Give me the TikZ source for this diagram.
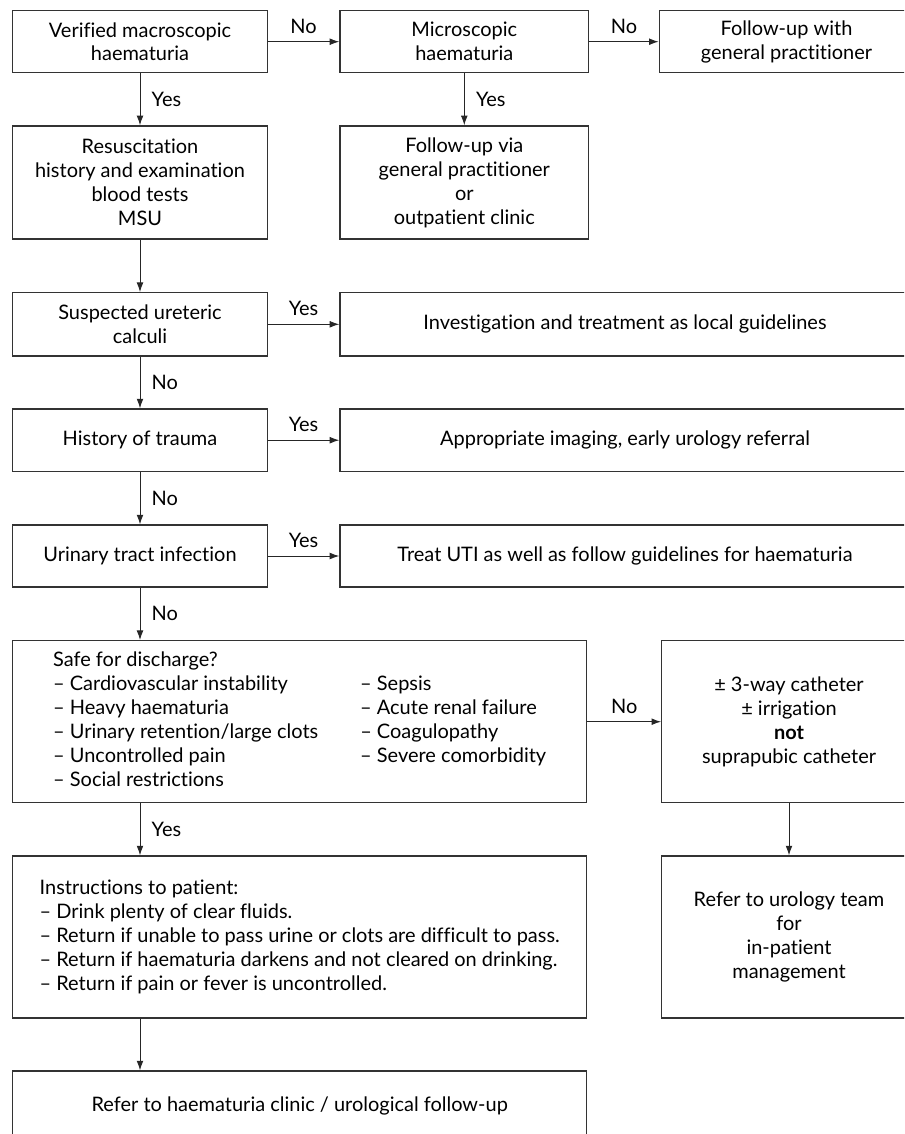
\documentclass[tikz,border=0pt]{standalone}
\usepackage{fontspec}
\setmainfont{Lato}[Ligatures=NoCommon]
\usetikzlibrary{arrows.meta}

\newcommand{\flowfont}{\fontsize{14.2}{17}\selectfont}

\tikzset{
  box/.style={draw=black!80, line width=0.9pt, inner sep=0pt, align=center, font=\flowfont},
  narrow/.style={box, minimum width=6.36cm},
  wide/.style={box, minimum width=14.35cm},
  lbl/.style={font=\flowfont, inner sep=0pt},
  link/.style={-{Latex[length=2.4mm,width=1.7mm]}, line width=0.7pt, draw=black!85},
}

\begin{document}
\begin{tikzpicture}[x=0.025cm, y=-0.025cm]
    \useasboundingbox (0,0) rectangle (904,1134);
    \clip (0,0) rectangle (904,1134);

    % Top row
    \node[narrow, minimum height=1.55cm] (verified) at (140, 41.7) {Verified macroscopic\\haematuria};
    \node[box, minimum width=6.22cm, minimum height=1.55cm] (micro) at (464.3, 41.7) {Microscopic\\haematuria};
    \node[narrow, minimum height=1.55cm] (gp) at (786.5, 41.7) {Follow-up with\\general practitioner};

    % Second row
    \node[narrow, minimum height=2.83cm] (resus) at (140, 182.5) {Resuscitation\\history and examination\\blood tests\\MSU};
    \node[box, minimum width=6.22cm, minimum height=2.83cm] (followup) at (464.3, 182.5) {Follow-up via\\general practitioner\\or\\outpatient clinic};

    % Questions down the left side
    \node[narrow, minimum height=1.58cm] (calculi) at (140, 324.3) {Suspected ureteric\\calculi};
    \node[box, minimum width=14.25cm, minimum height=1.58cm] (guide) at (625, 324.3) {Investigation and treatment as local guidelines};

    \node[narrow, minimum height=1.56cm] (trauma) at (140, 440.2) {History of trauma};
    \node[box, minimum width=14.25cm, minimum height=1.56cm] (imaging) at (625, 440.2) {Appropriate imaging, early urology referral};

    \node[narrow, minimum height=1.55cm] (uti) at (140, 556) {Urinary tract infection};
    \node[box, minimum width=14.25cm, minimum height=1.55cm] (treat) at (625, 556) {Treat UTI as well as follow guidelines for haematuria};

    % Discharge decision
    \node[wide, minimum height=4.05cm] (safe) at (299.7, 721.7) {%
        \begin{tabular}{@{}l@{\hspace{1.05cm}}l@{}}
        Safe for discharge? & \\
        -- Cardiovascular instability & -- Sepsis \\
        -- Heavy haematuria & -- Acute renal failure \\
        -- Urinary retention/large clots & -- Coagulopathy \\
        -- Uncontrolled pain & -- Severe comorbidity \\
        -- Social restrictions &
        \end{tabular}};
    \node[narrow, minimum height=4.05cm] (cath) at (789, 721.7) {± 3-way catheter\\± irrigation\\\textbf{not}\\suprapubic catheter};

    \node[wide, minimum height=4.05cm, align=left] (instr) at (299.7, 937) {Instructions to patient:\\
        -- Drink plenty of clear fluids.\\
        -- Return if unable to pass urine or clots are difficult to pass.\\
        -- Return if haematuria darkens and not cleared on drinking.\\
        -- Return if pain or fever is uncontrolled.};
    \node[narrow, minimum height=4.05cm] (urology) at (789, 937) {Refer to urology team\\for\\in-patient\\management};

    \node[wide, minimum height=1.75cm] (clinic) at (299.7, 1106) {Refer to haematuria clinic / urological follow-up};

    % Connectors
    \draw[link] (verified) -- node[lbl, above=5.5pt] {No} (micro);
    \draw[link] (micro) -- node[lbl, above=5.5pt] {No} (gp);
    \draw[link] (verified) -- node[lbl, right=8pt] {Yes} (resus);
    \draw[link] (micro) -- node[lbl, right=8pt] {Yes} (followup);
    \draw[link] (resus) -- (calculi);

    \draw[link] (calculi) -- node[lbl, above=5.5pt] {Yes} (guide);
    \draw[link] (calculi) -- node[lbl, right=8pt] {No} (trauma);
    \draw[link] (trauma) -- node[lbl, above=5.5pt] {Yes} (imaging);
    \draw[link] (trauma) -- node[lbl, right=8pt] {No} (uti);
    \draw[link] (uti) -- node[lbl, above=5.5pt] {Yes} (treat);
    \draw[link] (uti.south) -- node[lbl, right=8pt] {No} (uti.south |- safe.north);

    \draw[link] (safe) -- node[lbl, above=5.5pt] {No} (cath);
    \draw[link] (safe.south -| uti.south) -- node[lbl, right=8pt] {Yes} (uti.south |- instr.north);
    \draw[link] (cath) -- (urology);
    \draw[link] (instr.south -| uti.south) -- (uti.south |- clinic.north);
\end{tikzpicture}
\end{document}
